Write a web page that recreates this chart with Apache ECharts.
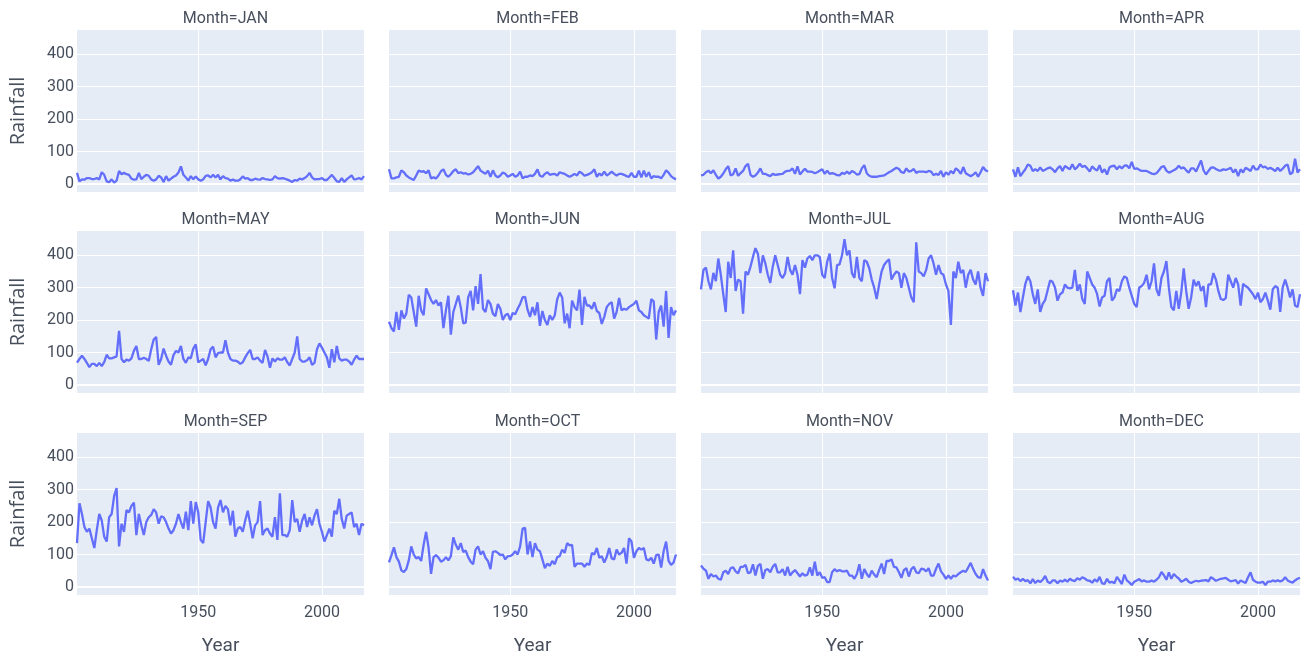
<!DOCTYPE html>
<html>
<head>
<meta charset="utf-8">
<script src="https://cdn.jsdelivr.net/npm/echarts@6/dist/echarts.min.js"></script>
<style>
  html, body { margin: 0; padding: 0; background: #ffffff; }
  #chart { width: 1304px; height: 659px; }
</style>
</head>
<body>
<div id="chart"></div>
<script>
// Monthly rainfall, one value per year from 1901 to 2017
const firstYear = 1901;
const lastYear = 2017;

const JAN = [34,8,14,13,18,18,15,15,18,14, 36,28,8,5,14,4,10,40,30,34, 30,28,16,13,14,34,15,22,28,25,
  14,10,14,25,20,6,24,10,16,22, 26,35,54,28,20,10,24,14,23,14, 10,14,25,26,20,28,20,28,14,24,
  18,16,10,13,10,10,14,23,16,18, 12,12,16,14,13,18,15,14,12,14, 24,18,16,18,16,13,10,6,12,10,
  16,14,18,24,34,20,14,15,15,18, 12,12,20,28,18,8,6,18,6,14, 20,26,14,15,18,14,24];
const FEB = [45,17,17,20,22,42,36,26,20,16, 12,26,41,38,39,33,42,17,20,17, 26,39,45,28,22,30,40,45,33,36,
  32,33,29,31,36,45,55,41,36,31, 41,22,42,26,20,26,35,31,22,26, 31,22,26,38,17,22,22,26,24,31,
  45,25,22,31,36,28,30,31,26,36, 33,31,26,22,26,31,26,38,33,25, 28,31,36,45,22,32,26,38,26,31,
  38,31,26,31,31,28,24,22,34,22, 22,41,20,41,22,36,17,24,22,22, 17,28,42,35,24,18,14];
const MAR = [26,28,36,41,33,42,28,16,22,32, 45,55,26,30,48,25,33,40,55,62, 28,22,26,35,48,31,31,27,24,31,
  28,29,30,31,38,40,41,48,31,54, 29,38,47,38,38,37,33,36,41,45, 31,41,31,33,31,27,26,34,31,38,
  31,40,36,29,30,48,58,33,25,22, 22,22,24,25,26,31,36,40,45,50, 46,36,34,48,38,40,46,34,38,38,
  38,36,40,38,27,31,28,40,22,36, 28,40,32,48,42,31,52,33,28,24, 28,36,22,36,52,42,38];
const APR = [45,22,51,24,35,45,60,56,40,45, 40,51,40,44,48,51,45,36,48,55, 40,55,50,45,61,45,52,62,52,56,
  48,38,54,46,41,58,35,45,29,51, 55,56,45,55,48,56,57,48,68,46, 48,44,40,40,40,36,32,30,33,42,
  52,55,41,35,38,42,47,56,48,51, 42,35,48,48,38,55,72,42,29,40, 50,51,46,42,41,45,43,46,50,35,
  45,24,45,35,50,45,40,56,45,45, 60,51,53,46,50,45,40,50,40,47, 56,60,30,35,78,35,45];
const MAY = [69,80,90,80,68,55,65,65,58,68, 58,70,93,82,82,85,88,167,80,70, 78,75,82,105,120,80,80,84,80,74,
  110,140,148,62,80,112,90,72,62,92, 105,100,120,80,68,85,82,112,125,70, 75,80,60,80,110,118,85,98,100,100,
  138,100,80,75,75,72,65,70,85,98, 108,80,80,85,75,68,108,88,53,82, 72,82,78,78,85,70,60,80,100,150,
  80,72,72,76,85,62,68,110,128,115, 100,85,53,110,70,120,82,75,78,78, 72,62,78,90,80,80,80];
const JUN = [195,175,165,225,170,230,205,220,278,270, 225,180,275,230,215,298,280,262,250,262, 245,255,175,230,275,155,225,250,276,240,
  190,192,270,290,230,305,250,342,235,225, 262,250,220,212,250,235,200,215,220,200, 222,218,235,250,270,272,232,210,240,215,
  255,182,228,200,185,215,200,215,265,285, 270,190,220,175,260,240,230,294,185,272, 245,245,235,255,228,222,188,210,240,250,
  255,205,225,268,230,235,232,240,245,250, 260,230,225,215,210,205,265,258,140,225, 245,180,290,145,240,215,230];
const JUL = [295,355,362,320,295,346,320,390,340,280, 225,380,330,415,290,325,320,220,350,340, 365,395,422,405,345,400,375,340,315,365,
  400,370,340,330,345,395,355,340,370,340, 280,385,362,390,398,385,400,400,395,340, 330,380,405,330,298,370,372,400,450,400,
  415,345,330,395,330,320,385,380,360,325, 300,265,310,350,370,380,388,325,340,350, 345,300,345,330,300,270,255,440,350,345,
  335,355,390,400,375,340,370,345,340,310, 290,185,350,330,380,345,355,300,340,355, 325,310,350,300,275,345,320];
const AUG = [292,245,285,225,270,312,335,320,280,250, 295,225,250,262,292,322,318,300,260,280, 285,310,300,298,300,355,290,310,265,250,
  350,330,310,300,280,242,270,275,320,330, 260,270,295,290,320,335,330,300,275,250, 240,300,305,315,340,295,320,375,295,275,
  330,350,382,300,240,230,290,235,285,360, 290,235,270,325,305,320,290,305,240,310, 310,345,325,290,265,262,268,340,320,300,
  330,310,245,312,305,300,290,280,265,285, 255,265,285,260,232,295,305,300,225,300, 325,300,270,295,245,240,280];
const SEP = [135,258,225,185,170,180,150,120,175,225, 205,155,140,215,225,280,305,125,195,170, 237,230,250,260,160,225,190,160,200,215,
  222,240,230,195,218,215,200,180,165,175, 195,225,200,180,232,175,265,195,262,230, 145,135,200,265,245,200,180,245,268,230,
  250,240,190,235,155,180,185,170,205,235, 195,150,190,200,265,160,175,180,165,155, 215,145,289,160,160,155,175,268,200,210,
  170,205,225,185,215,190,220,240,195,170, 140,160,180,155,235,225,272,210,180,220, 225,230,185,195,160,195,190];
const OCT = [76,98,122,92,78,51,46,55,82,125, 100,88,92,80,130,170,120,40,92,98, 90,78,82,92,82,95,153,130,115,135,
  108,112,92,78,70,115,125,100,110,90, 80,55,108,110,105,98,100,85,95,95, 100,110,100,125,180,182,100,140,92,135,
  115,110,85,58,72,65,80,70,92,95, 115,105,135,128,130,62,72,72,72,62, 72,68,105,100,120,90,95,75,92,120,
  88,85,115,100,105,120,72,150,140,90, 110,120,115,120,85,82,90,72,98,100, 60,110,140,80,68,75,100];
const NOV = [66,56,50,25,40,32,35,25,22,45, 50,40,58,60,48,42,62,62,68,42, 45,70,35,65,71,25,52,55,45,62,
  71,45,45,55,35,62,35,45,52,42, 32,42,35,38,60,35,78,35,45,28, 30,15,15,45,55,48,52,48,48,50,
  35,35,25,40,70,25,55,40,30,50, 38,30,52,72,40,80,80,85,62,60, 45,28,52,58,32,55,62,45,42,56,
  55,48,58,35,35,56,72,48,38,25, 35,25,35,32,40,45,50,46,60,74, 55,40,30,28,55,35,20];
const DEC = [31,22,26,18,25,18,21,11,24,12, 20,15,22,34,16,11,20,20,11,20, 16,22,16,25,20,18,27,22,30,26,
  20,19,13,23,16,31,11,9,25,13, 16,11,31,20,9,38,20,14,6,16, 20,24,17,20,16,16,20,16,22,30,
  46,36,22,45,25,40,32,26,16,20, 25,16,12,16,19,17,19,20,21,17, 30,25,19,22,25,26,28,22,17,19,
  21,10,20,16,12,30,45,22,16,13, 13,16,6,16,16,20,17,20,17,20, 30,20,16,13,20,25,28];

const monthNames = ['JAN','FEB','MAR','APR','MAY','JUN','JUL','AUG','SEP','OCT','NOV','DEC'];
const monthValues = [JAN,FEB,MAR,APR,MAY,JUN,JUL,AUG,SEP,OCT,NOV,DEC];
const yTicks = [0, 100, 200, 300, 400];
const xTicks = [1950, 2000];

const years = [];
for (let y = firstYear; y <= lastYear; y++) years.push(y);

// Facet layout: 4 columns x 3 rows
const colLeft = [77, 389, 701, 1013];
const rowTop = [30, 231, 433];
const panelW = 287;
const panelH = 162;

const textColor = '#474f5c';
const labelFont = "Roboto, 'Open Sans', sans-serif";

const grids = [], xAxes = [], yAxes = [], series = [], titles = [];

monthNames.forEach((name, k) => {
  const r = Math.floor(k / 4), c = k % 4;
  grids.push({
    left: colLeft[c], top: rowTop[r], width: panelW, height: panelH,
    show: true, backgroundColor: '#E5ECF6', borderWidth: 0, containLabel: false
  });
  xAxes.push({
    type: 'value', gridIndex: k, min: firstYear, max: lastYear,
    name: r === 2 ? 'Year' : '', nameLocation: 'middle', nameGap: 42,
    nameTextStyle: { color: textColor, fontSize: 19, fontFamily: labelFont },
    axisLine: { show: true, onZero: true, lineStyle: { color: '#ffffff', width: 2 } },
    axisTick: { show: false, customValues: xTicks },
    axisLabel: {
      show: r === 2, customValues: xTicks, color: textColor, fontSize: 16,
      fontFamily: labelFont, margin: 10, formatter: v => String(v)
    },
    splitLine: { show: true, lineStyle: { color: '#ffffff', width: 1 } }
  });
  yAxes.push({
    type: 'value', gridIndex: k, min: -25, max: 475,
    name: c === 0 ? 'Rainfall' : '', nameLocation: 'middle', nameGap: 49,
    nameTextStyle: { color: textColor, fontSize: 20, fontFamily: "'Open Sans', sans-serif" },
    axisLine: { show: false },
    axisTick: { show: false, customValues: yTicks },
    axisLabel: { show: c === 0, customValues: yTicks, color: textColor, fontSize: 16, fontFamily: labelFont, margin: 3 },
    splitLine: { show: true, lineStyle: { color: '#ffffff', width: 1 } }
  });
  series.push({
    type: 'line', xAxisIndex: k, yAxisIndex: k,
    data: years.map((yr, i) => [yr, monthValues[k][i]]),
    showSymbol: false, symbol: 'none', animation: false,
    lineStyle: { color: '#636efa', width: 2.3 },
    itemStyle: { color: '#636efa' }
  });
  titles.push({
    text: 'Month=' + name,
    left: colLeft[c] + panelW / 2, top: rowTop[r] - 24, textAlign: 'center',
    textStyle: { color: textColor, fontSize: 16, fontWeight: 'normal', fontFamily: labelFont }
  });
});

const chart = echarts.init(document.getElementById('chart'), null, { renderer: 'canvas' });
chart.setOption({
  backgroundColor: '#ffffff',
  animation: false,
  title: titles,
  grid: grids,
  xAxis: xAxes,
  yAxis: yAxes,
  series: series
});
</script>
</body>
</html>
